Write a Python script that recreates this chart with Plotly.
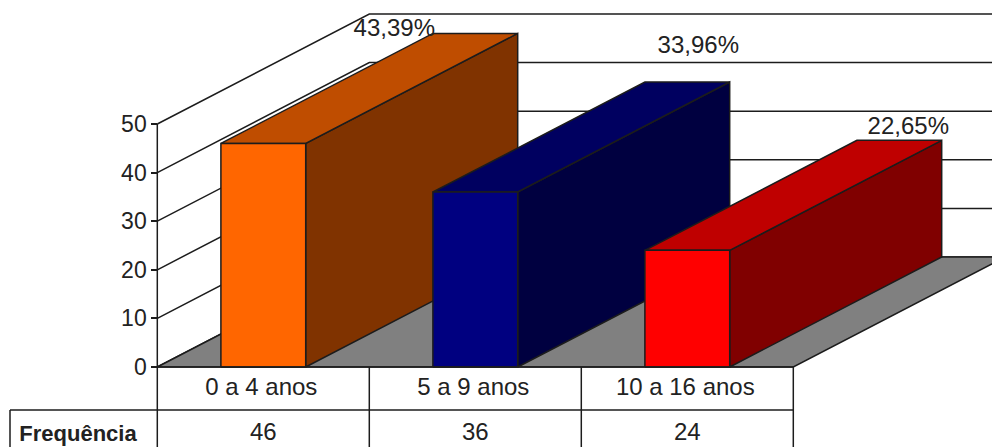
import plotly.graph_objects as go

categories = ["0 a 4 anos", "5 a 9 anos", "10 a 16 anos"]
frequency = [46, 36, 24]
percent_labels = ["43,39%", "33,96%", "22,65%"]
value_ticks = [0, 10, 20, 30, 40, 50]
row_title = "Frequência"

front_colors = ["#FF6600", "#000080", "#FF0000"]
top_colors = ["#BF4D00", "#000060", "#BF0000"]
side_colors = ["#803300", "#000040", "#800000"]

# Oblique projection: one category = 212 px, one value unit = 4.86 px
W, H = 992, 447
PX_X, PX_Y, X0, Y0 = 212.0, 4.86, 157.3, 367.0
DX, DY = 1.0, 110.0 / PX_Y      # depth offset in axis units
BAR = 0.4
INK = "#1c1c1c"
FONT = "Liberation Sans, Arial, sans-serif"
xrange_ = [-X0 / PX_X, (W - X0) / PX_X]
yrange_ = [-(H - Y0) / PX_Y, Y0 / PX_Y]


def rows(px):
    return (Y0 - px) / PX_Y


fig = go.Figure()


def poly(xs, ys, fill=None, lw=1.5, color=INK):
    fig.add_trace(go.Scatter(
        x=xs, y=ys, mode="lines", line=dict(color=color, width=lw),
        fill="toself" if fill else None, fillcolor=fill,
        hoverinfo="skip", showlegend=False))


# walls: gridlines on the left wall and along the back wall
for v in value_ticks:
    poly([0, DX, len(categories) + DX], [v, v + DY, v + DY])

# floor
n = len(categories)
poly([0, n, n + DX, DX, 0], [0, 0, DY, DY, 0], fill="#808080")

# bars, drawn from the values
for i, v in enumerate(frequency):
    x0, x1 = i + 0.5 - BAR / 2, i + 0.5 + BAR / 2
    poly([x1, x1 + DX, x1 + DX, x1, x1], [0, DY, v + DY, v, 0], fill=side_colors[i])
    poly([x0, x1, x1 + DX, x0 + DX, x0], [v, v, v + DY, v + DY, v], fill=top_colors[i])
    poly([x0, x1, x1, x0, x0], [0, 0, v, v, 0], fill=front_colors[i])

# data table under the plot
row1, row2 = rows(410), rows(447)
left = (10 - X0) / PX_X
poly([0, n], [0, 0])
poly([left, n], [row1, row1])
poly([left, left], [row1, row2])
for k in range(n + 1):
    poly([k, k], [0, row2])


def text_row(xs, ys, labels, size=24, bold=False):
    fig.add_trace(go.Scatter(
        x=xs, y=ys, mode="text", text=labels, textposition="middle center",
        textfont=dict(family=FONT, size=size, color="#222222",
                      weight="bold" if bold else "normal"),
        hoverinfo="skip", showlegend=False, cliponaxis=False))


mid = [i + 0.5 for i in range(n)]
text_row([m - 2 / PX_X for m in mid], [rows(389)] * n, categories)
text_row(mid, [rows(434)] * n, [str(v) for v in frequency])
text_row([(78 - X0) / PX_X], [rows(435)], [row_title], size=22, bold=True)

# percentage labels, moved by hand in the original chart
label_shift_x = [-81, 11, 9]
label_shift_y = [-3, -35, -12]
text_row(
    [mid[i] + DX + label_shift_x[i] / PX_X for i in range(n)],
    [frequency[i] + DY - label_shift_y[i] / PX_Y for i in range(n)],
    percent_labels)

# value axis
fig.add_trace(go.Scatter(x=[0, 0], y=[0, 50], yaxis="y2", mode="lines",
                         line=dict(color=INK, width=1.5),
                         hoverinfo="skip", showlegend=False))

fig.update_layout(
    width=W, height=H, margin=dict(l=0, r=0, t=0, b=0),
    paper_bgcolor="white", plot_bgcolor="white", showlegend=False,
    xaxis=dict(range=xrange_, visible=False, domain=[0, 1]),
    yaxis=dict(range=yrange_, visible=False, domain=[0, 1]),
    yaxis2=dict(range=yrange_, overlaying="y", anchor="free",
                position=X0 / W, side="left", tickmode="array",
                tickvals=value_ticks, ticks="outside", ticklen=6,
                tickwidth=1.5, tickcolor=INK, showgrid=False, zeroline=False,
                showline=False,
                tickfont=dict(family=FONT, size=23, color="#222222")),
)

fig.write_html("out.html", config={"displayModeBar": False},
               post_script="document.body.style.margin='0';")
